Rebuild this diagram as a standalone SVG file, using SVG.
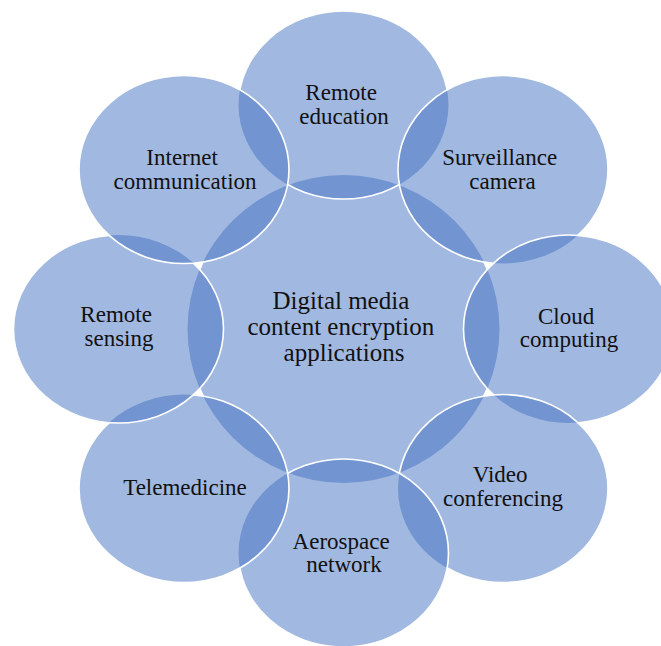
<svg xmlns="http://www.w3.org/2000/svg" xmlns:xlink="http://www.w3.org/1999/xlink" width="661" height="646" viewBox="0 0 661 646">
  <style>
    .fill { fill: #4472C4; fill-opacity: 0.5; stroke: none; }
    .edge { fill: none; stroke: #FFFFFF; stroke-width: 1.6; }
    .lbl { font-family: "Liberation Serif", "Times New Roman", serif; font-size: 23px; fill: #111111; text-anchor: middle; }
    .hub { font-size: 25px; }
  </style>
  <defs>
    <!-- shapes: hub plus eight satellites, clockwise from the top -->
    <ellipse id="e0" cx="343.5" cy="329" rx="156" ry="154"/>
    <ellipse id="e1" cx="343.5" cy="105" rx="105" ry="94"/>
    <ellipse id="e2" cx="503" cy="169.5" rx="105" ry="94"/>
    <ellipse id="e3" cx="568.5" cy="329" rx="105" ry="94"/>
    <ellipse id="e4" cx="503" cy="488.5" rx="105" ry="94"/>
    <ellipse id="e5" cx="343.5" cy="553" rx="105" ry="94"/>
    <ellipse id="e6" cx="184" cy="488.5" rx="105" ry="94"/>
    <ellipse id="e7" cx="118.5" cy="329" rx="105" ry="94"/>
    <ellipse id="e8" cx="184" cy="169.5" rx="105" ry="94"/>
    <!-- each outline is hidden wherever a later shape sits on top of it -->
    <mask id="m0" maskUnits="userSpaceOnUse" x="0" y="0" width="661" height="646">
      <rect width="661" height="646" fill="#fff"/>
      <g fill="#000"><use xlink:href="#e1"/><use xlink:href="#e2"/><use xlink:href="#e3"/><use xlink:href="#e4"/><use xlink:href="#e5"/><use xlink:href="#e6"/><use xlink:href="#e7"/><use xlink:href="#e8"/></g>
    </mask>
    <mask id="m1" maskUnits="userSpaceOnUse" x="0" y="0" width="661" height="646">
      <rect width="661" height="646" fill="#fff"/>
      <g fill="#000"><use xlink:href="#e2"/><use xlink:href="#e3"/><use xlink:href="#e4"/><use xlink:href="#e5"/><use xlink:href="#e6"/><use xlink:href="#e7"/><use xlink:href="#e8"/></g>
    </mask>
    <mask id="m2" maskUnits="userSpaceOnUse" x="0" y="0" width="661" height="646">
      <rect width="661" height="646" fill="#fff"/>
      <g fill="#000"><use xlink:href="#e3"/><use xlink:href="#e4"/><use xlink:href="#e5"/><use xlink:href="#e6"/><use xlink:href="#e7"/><use xlink:href="#e8"/></g>
    </mask>
    <mask id="m3" maskUnits="userSpaceOnUse" x="0" y="0" width="661" height="646">
      <rect width="661" height="646" fill="#fff"/>
      <g fill="#000"><use xlink:href="#e4"/><use xlink:href="#e5"/><use xlink:href="#e6"/><use xlink:href="#e7"/><use xlink:href="#e8"/></g>
    </mask>
    <mask id="m4" maskUnits="userSpaceOnUse" x="0" y="0" width="661" height="646">
      <rect width="661" height="646" fill="#fff"/>
      <g fill="#000"><use xlink:href="#e5"/><use xlink:href="#e6"/><use xlink:href="#e7"/><use xlink:href="#e8"/></g>
    </mask>
    <mask id="m5" maskUnits="userSpaceOnUse" x="0" y="0" width="661" height="646">
      <rect width="661" height="646" fill="#fff"/>
      <g fill="#000"><use xlink:href="#e6"/><use xlink:href="#e7"/><use xlink:href="#e8"/></g>
    </mask>
    <mask id="m6" maskUnits="userSpaceOnUse" x="0" y="0" width="661" height="646">
      <rect width="661" height="646" fill="#fff"/>
      <g fill="#000"><use xlink:href="#e7"/><use xlink:href="#e8"/></g>
    </mask>
    <mask id="m7" maskUnits="userSpaceOnUse" x="0" y="0" width="661" height="646">
      <rect width="661" height="646" fill="#fff"/>
      <g fill="#000"><use xlink:href="#e8"/></g>
    </mask>
  </defs>

  <rect width="661" height="646" fill="#FFFFFF"/>

  <g id="node-hub">
    <use xlink:href="#e0" class="fill"/>
    <use xlink:href="#e0" class="edge" mask="url(#m0)"/>
    <text class="lbl hub">
      <tspan x="344" y="309">Digital media</tspan>
      <tspan x="344" y="335">content encryption</tspan>
      <tspan x="344" y="361">applications</tspan>
    </text>
  </g>

  <g id="node-remote-education">
    <use xlink:href="#e1" class="fill"/>
    <use xlink:href="#e1" class="edge" mask="url(#m1)"/>
    <text class="lbl">
      <tspan x="344" y="100">Remote</tspan>
      <tspan x="344" y="123.5">education</tspan>
    </text>
  </g>

  <g id="node-surveillance-camera">
    <use xlink:href="#e2" class="fill"/>
    <use xlink:href="#e2" class="edge" mask="url(#m2)"/>
    <text class="lbl">
      <tspan x="502.5" y="165">Surveillance</tspan>
      <tspan x="502.5" y="188.5">camera</tspan>
    </text>
  </g>

  <g id="node-cloud-computing">
    <use xlink:href="#e3" class="fill"/>
    <use xlink:href="#e3" class="edge" mask="url(#m3)"/>
    <text class="lbl">
      <tspan x="569" y="323.5">Cloud</tspan>
      <tspan x="569" y="347">computing</tspan>
    </text>
  </g>

  <g id="node-video-conferencing">
    <use xlink:href="#e4" class="fill"/>
    <use xlink:href="#e4" class="edge" mask="url(#m4)"/>
    <text class="lbl">
      <tspan x="503" y="482">Video</tspan>
      <tspan x="503" y="506">conferencing</tspan>
    </text>
  </g>

  <g id="node-aerospace-network">
    <use xlink:href="#e5" class="fill"/>
    <use xlink:href="#e5" class="edge" mask="url(#m5)"/>
    <text class="lbl">
      <tspan x="344" y="548.5">Aerospace</tspan>
      <tspan x="344" y="572">network</tspan>
    </text>
  </g>

  <g id="node-telemedicine">
    <use xlink:href="#e6" class="fill"/>
    <use xlink:href="#e6" class="edge" mask="url(#m6)"/>
    <text class="lbl" x="185" y="494.5">Telemedicine</text>
  </g>

  <g id="node-remote-sensing">
    <use xlink:href="#e7" class="fill"/>
    <use xlink:href="#e7" class="edge" mask="url(#m7)"/>
    <text class="lbl">
      <tspan x="119" y="322">Remote</tspan>
      <tspan x="119" y="346">sensing</tspan>
    </text>
  </g>

  <g id="node-internet-communication">
    <use xlink:href="#e8" class="fill"/>
    <use xlink:href="#e8" class="edge"/>
    <text class="lbl">
      <tspan x="185" y="164.5">Internet</tspan>
      <tspan x="185" y="188.5">communication</tspan>
    </text>
  </g>

  <!-- no connectors: the shapes touch and overlap directly -->
  <g id="connectors"/>
</svg>
